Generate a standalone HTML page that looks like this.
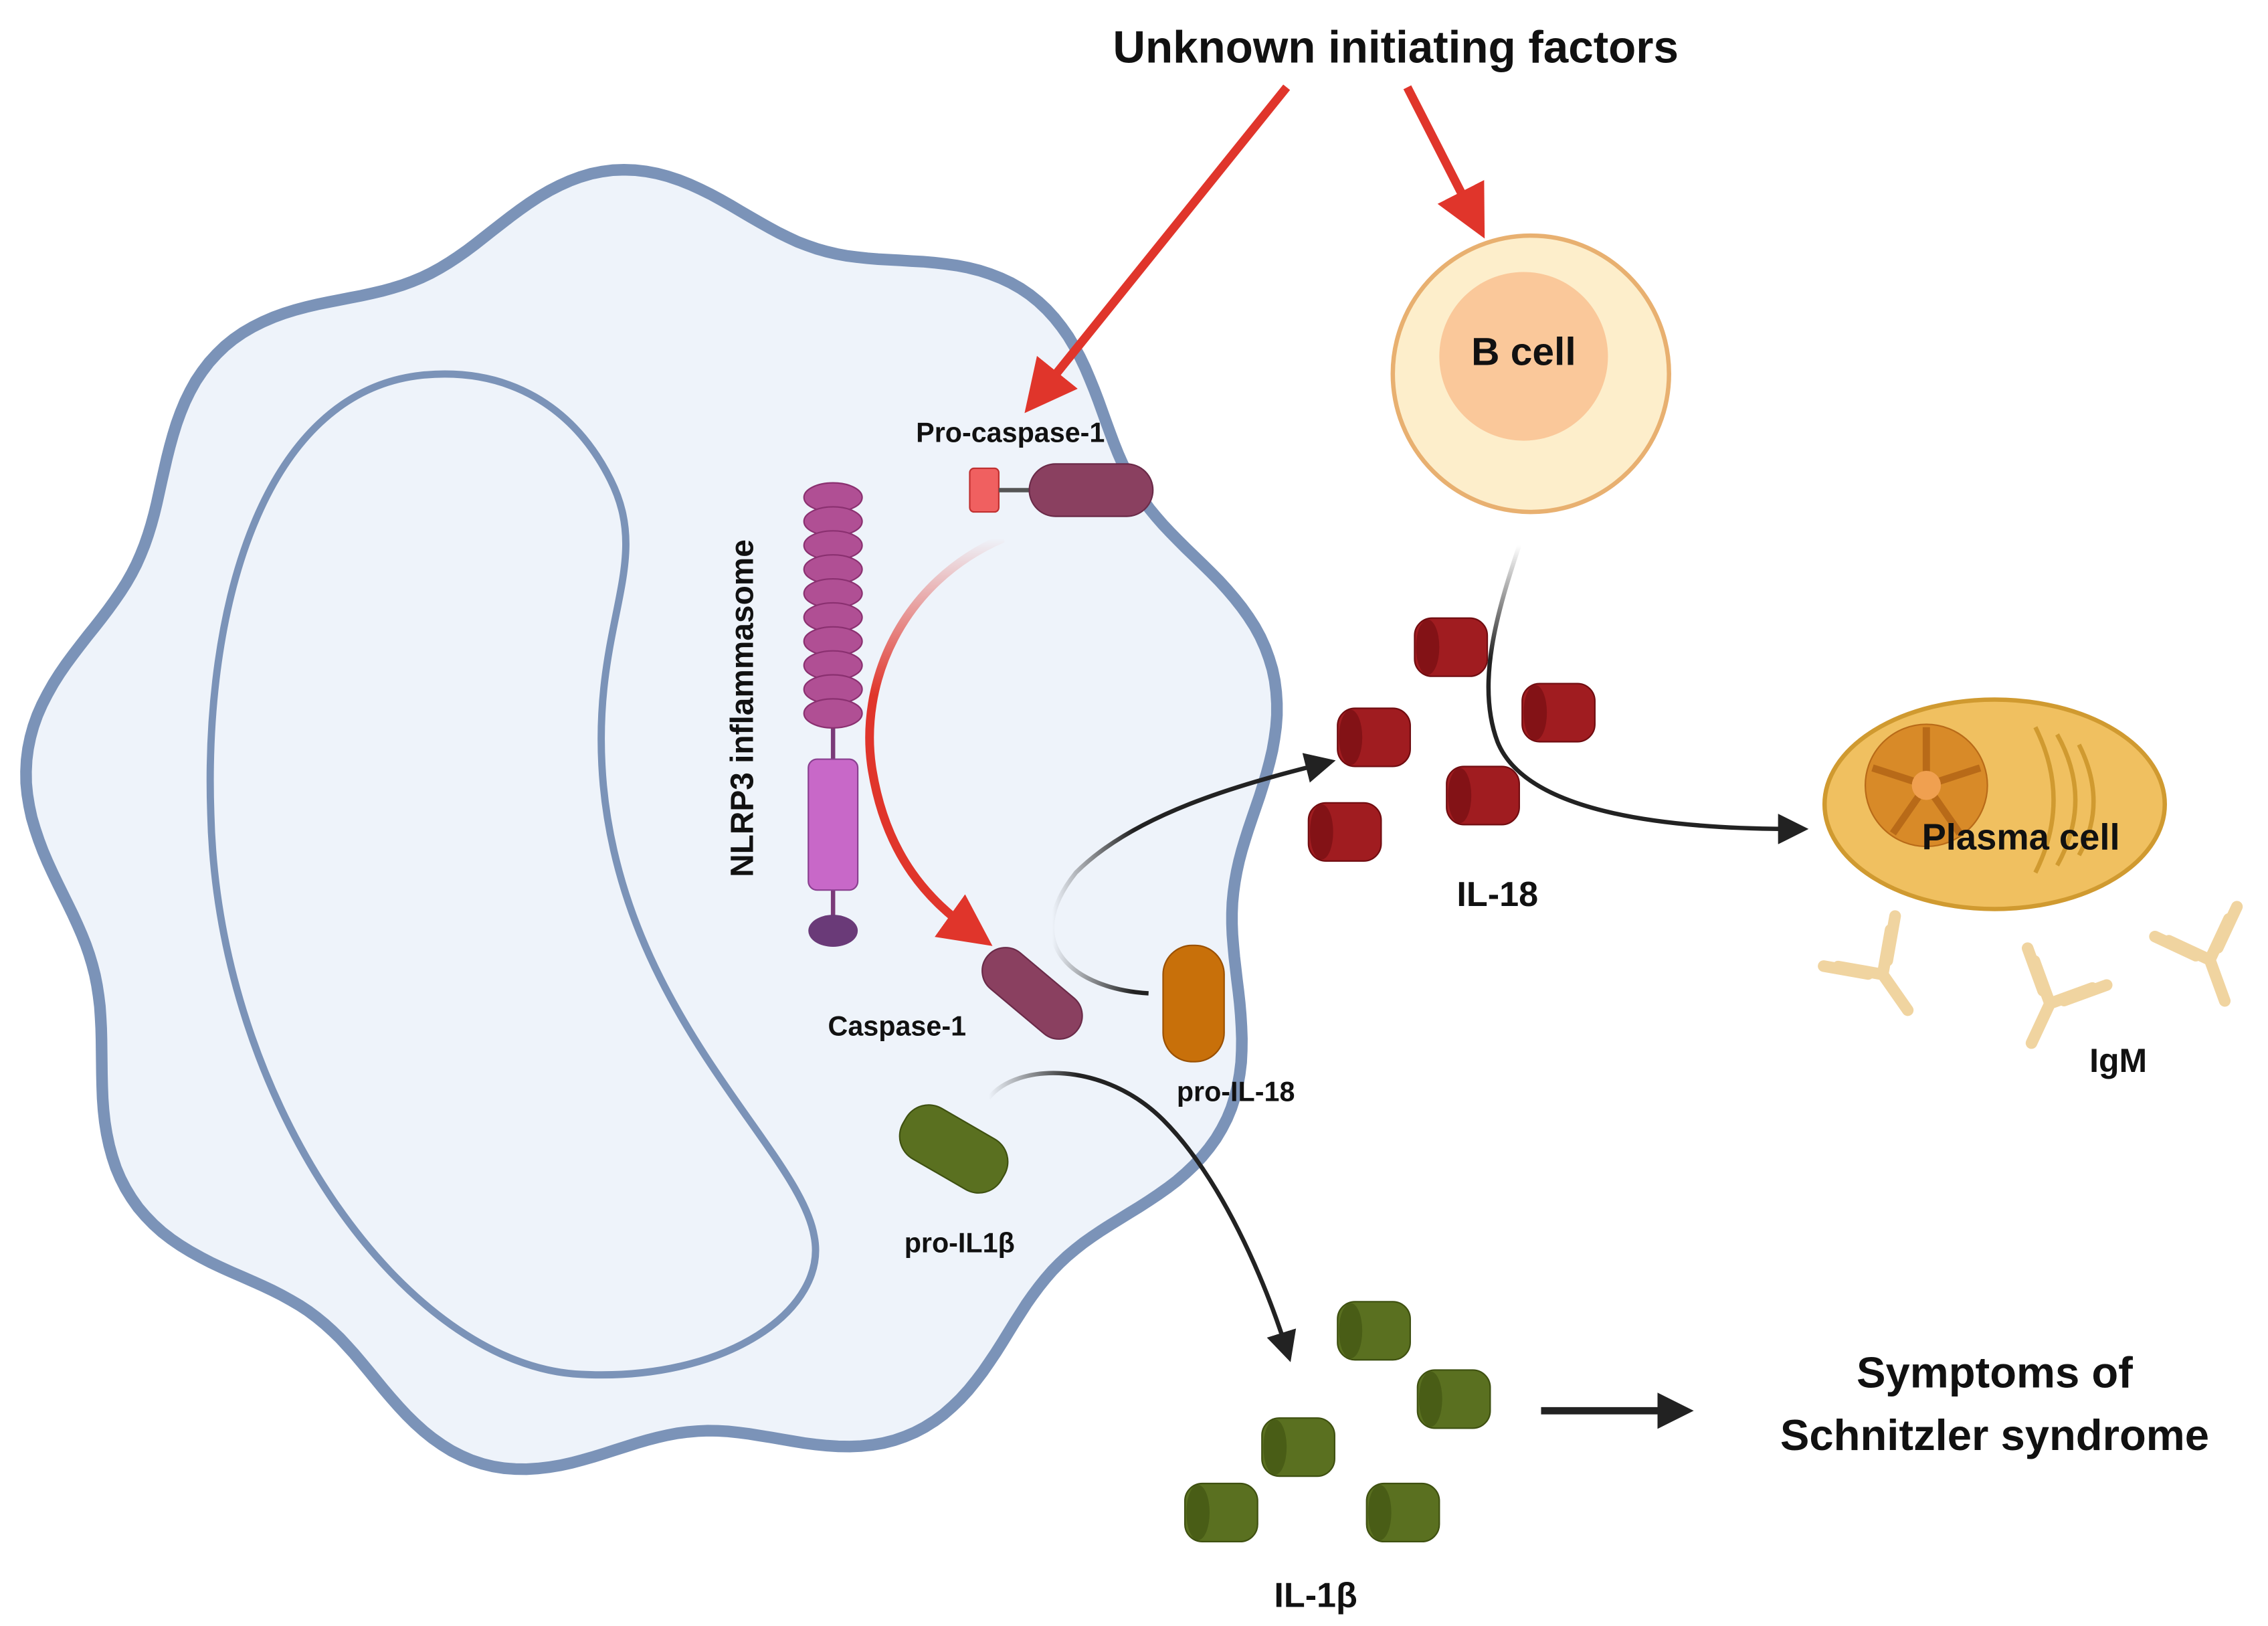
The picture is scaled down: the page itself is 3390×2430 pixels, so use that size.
<!DOCTYPE html>
<html><head><meta charset="utf-8"><style>
html,body{margin:0;padding:0;background:#fff;}
svg{display:block;}
text{font-family:"Liberation Sans",sans-serif;font-weight:bold;fill:#111;}
</style></head><body>
<svg id="s" width="3390" height="2430" viewBox="0 0 1560 1118" preserveAspectRatio="none" xmlns="http://www.w3.org/2000/svg">
<defs>
<marker id="ar" markerWidth="6" markerHeight="6" refX="3" refY="3" orient="auto" markerUnits="strokeWidth"><path d="M0,0 L6,3 L0,6 z" fill="#e0352b"/></marker>
<marker id="ak" markerWidth="7" markerHeight="7" refX="4" refY="3.5" orient="auto" markerUnits="strokeWidth"><path d="M0,0 L7,3.5 L0,7 z" fill="#222"/></marker>
<marker id="ak2" markerWidth="5" markerHeight="5" refX="2" refY="2.5" orient="auto" markerUnits="strokeWidth"><path d="M0,0 L5,2.5 L0,5 z" fill="#222"/></marker>
<linearGradient id="rg" x1="0" y1="0" x2="0" y2="1"><stop offset="0" stop-color="#e0352b" stop-opacity="0"/><stop offset="0.4" stop-color="#e0352b"/></linearGradient>
<linearGradient id="kg" x1="0" y1="0" x2="1" y2="0"><stop offset="0" stop-color="#222" stop-opacity="0"/><stop offset="0.3" stop-color="#222"/></linearGradient>
<linearGradient id="rg2" x1="0" y1="0" x2="0" y2="1"><stop offset="0" stop-color="#222" stop-opacity="0"/><stop offset="0.4" stop-color="#222"/></linearGradient>
</defs>
<path id="cell" fill="#eef3fa" stroke="#7b93b8" stroke-width="8"/>
<path d="M290 258 C180 270 140 420 145 560 C150 760 280 940 400 945 C500 950 570 900 560 850 C550 790 430 700 415 540 C405 430 450 390 420 330 C395 280 350 252 290 258 Z" fill="none" stroke="#7b93b8" stroke-width="5"/>

<text x="960" y="43" font-size="31" text-anchor="middle">Unknown initiating factors</text>
<line x1="885" y1="60" x2="716" y2="270" stroke="#e0352b" stroke-width="6" marker-end="url(#ar)"/>
<line x1="968" y1="60" x2="1013" y2="148" stroke="#e0352b" stroke-width="6" marker-end="url(#ar)"/>

<line x1="573" y1="340" x2="573" y2="640" stroke="#7a3a78" stroke-width="3"/>
<g id="nl" fill="#b04f94" stroke="#8a3070" stroke-width="1"></g>
<rect x="556" y="522" width="34" height="90" rx="6" fill="#c868c8" stroke="#8a4090"/>
<ellipse cx="573" cy="640" rx="17" ry="11" fill="#6a3a78"/>
<text transform="translate(518,487) rotate(-90)" font-size="22" text-anchor="middle">NLRP3 inflammasome</text>

<text x="695" y="304" font-size="19" text-anchor="middle">Pro-caspase-1</text>
<rect x="667" y="322" width="20" height="30" rx="3" fill="#f06060" stroke="#c03030"/>
<line x1="687" y1="337" x2="710" y2="337" stroke="#555" stroke-width="3"/>
<rect x="708" y="319" width="85" height="36" rx="18" fill="#8a4060" stroke="#6a2a48"/>

<path d="M690 370 C620 400 590 470 600 530 C610 590 640 620 668 640" fill="none" stroke="url(#rg)" stroke-width="6" marker-end="url(#ar)"/>

<rect x="670" y="667" width="80" height="32" rx="16" fill="#8a4060" stroke="#6a2a48" transform="rotate(40 710 683)"/>
<text x="617" y="712" font-size="19" text-anchor="middle">Caspase-1</text>

<rect x="800" y="650" width="42" height="80" rx="20" fill="#c8700a" stroke="#9a5000"/>
<text x="850" y="757" font-size="19" text-anchor="middle">pro-IL-18</text>

<rect x="617" y="770" width="78" height="40" rx="18" fill="#5a7020" stroke="#3e5010" transform="rotate(30 656 790)"/>
<text x="660" y="861" font-size="19" text-anchor="middle">pro-IL1β</text>

<path d="M790 683 C740 680 700 650 740 600 C780 560 850 540 910 525" fill="none" stroke="url(#kg)" stroke-width="3" marker-end="url(#ak)"/>
<path d="M680 755 C700 730 760 730 800 770 C840 810 870 880 885 928" fill="none" stroke="url(#kg)" stroke-width="3" marker-end="url(#ak)"/>
<path d="M1045 375 C1030 420 1015 470 1030 510 C1050 560 1150 570 1235 570" fill="none" stroke="url(#rg2)" stroke-width="3" marker-end="url(#ak)"/>

<circle cx="1053" cy="257" r="95" fill="#fdeecb" stroke="#e8b070" stroke-width="3"/>
<circle cx="1048" cy="245" r="58" fill="#fac89a"/>
<text x="1048" y="251" font-size="27" text-anchor="middle">B cell</text>

<g id="il18"></g>
<text x="1030" y="623" font-size="24" text-anchor="middle">IL-18</text>

<ellipse cx="1372" cy="553" rx="117" ry="72" fill="#f0c060" stroke="#d09a30" stroke-width="3"/>
<circle cx="1325" cy="540" r="42" fill="#d88a28" stroke="#b86a18"/>
<g stroke="#b86a18" stroke-width="5"><line x1="1325" y1="540" x2="1325" y2="500"/><line x1="1325" y1="540" x2="1362" y2="528"/><line x1="1325" y1="540" x2="1348" y2="573"/><line x1="1325" y1="540" x2="1302" y2="573"/><line x1="1325" y1="540" x2="1288" y2="528"/></g>
<circle cx="1325" cy="540" r="10" fill="#f0a050"/>
<path d="M1400 500 q25 50 0 100 M1415 505 q25 45 0 90 M1430 512 q20 40 0 76" fill="none" stroke="#d09a30" stroke-width="3"/>
<text x="1390" y="584" font-size="25" text-anchor="middle">Plasma cell</text>
<g id="ab" fill="none" stroke="#f0d4a0" stroke-width="8" stroke-linecap="round"></g>
<text x="1457" y="737" font-size="23" text-anchor="middle">IgM</text>

<g id="il1"></g>
<text x="905" y="1105" font-size="24" text-anchor="middle">IL-1β</text>

<line x1="1060" y1="970" x2="1150" y2="970" stroke="#222" stroke-width="5" marker-end="url(#ak2)"/>
<text x="1372" y="954" font-size="30" text-anchor="middle">Symptoms of</text>
<text x="1372" y="997" font-size="30" text-anchor="middle">Schnitzler syndrome</text>
</svg>
<script>
var N='http://www.w3.org/2000/svg';
var d='',cx=452,cy=570,rx=437,ry=455;
for(var i=0;i<=360;i++){var t=i*Math.PI/180;var r=1-0.045*(1+Math.sin(9*t+0.6))+0.045;
var x=cx+rx*r*Math.cos(t)*0.955,y=cy+ry*r*Math.sin(t)*0.955;d+=(i?'L':'M')+x.toFixed(1)+' '+y.toFixed(1);}
document.getElementById('cell').setAttribute('d',d+'Z');
function el(p,tag,a){var e=document.createElementNS(N,tag);for(var k in a)e.setAttribute(k,a[k]);p.appendChild(e);return e;}
var nl=document.getElementById('nl');
for(var y=342;y<=500;y+=16.5)el(nl,'ellipse',{cx:573,cy:y,rx:20,ry:10});
function cap(g,x,y,w,h,f,s){el(g,'rect',{x:x-w/2,y:y-h/2,width:w,height:h,rx:12,fill:f,stroke:s});el(g,'ellipse',{cx:x-w/2+9,cy:y,rx:8,ry:h/2-1,fill:s,opacity:0.6});}
var g=document.getElementById('il18');
[[998,445],[945,507],[1072,490],[1020,547],[925,572]].forEach(function(p){cap(g,p[0],p[1],50,40,'#a01c20','#700c10');});
g=document.getElementById('il1');
[[945,915],[1000,962],[893,995],[840,1040],[965,1040]].forEach(function(p){cap(g,p[0],p[1],50,40,'#5a7020','#3e5010');});
var ab=document.getElementById('ab');
[[1295,670,-35],[1410,690,25],[1520,660,-20]].forEach(function(p){
 el(ab,'path',{d:'M0 0 L0 30 M0 0 L-22 -22 M0 0 L22 -22 M-8 -6 L-30 -28 M8 -6 L30 -28',transform:'translate('+p[0]+' '+p[1]+') rotate('+p[2]+')'});});
</script>
</body></html>
